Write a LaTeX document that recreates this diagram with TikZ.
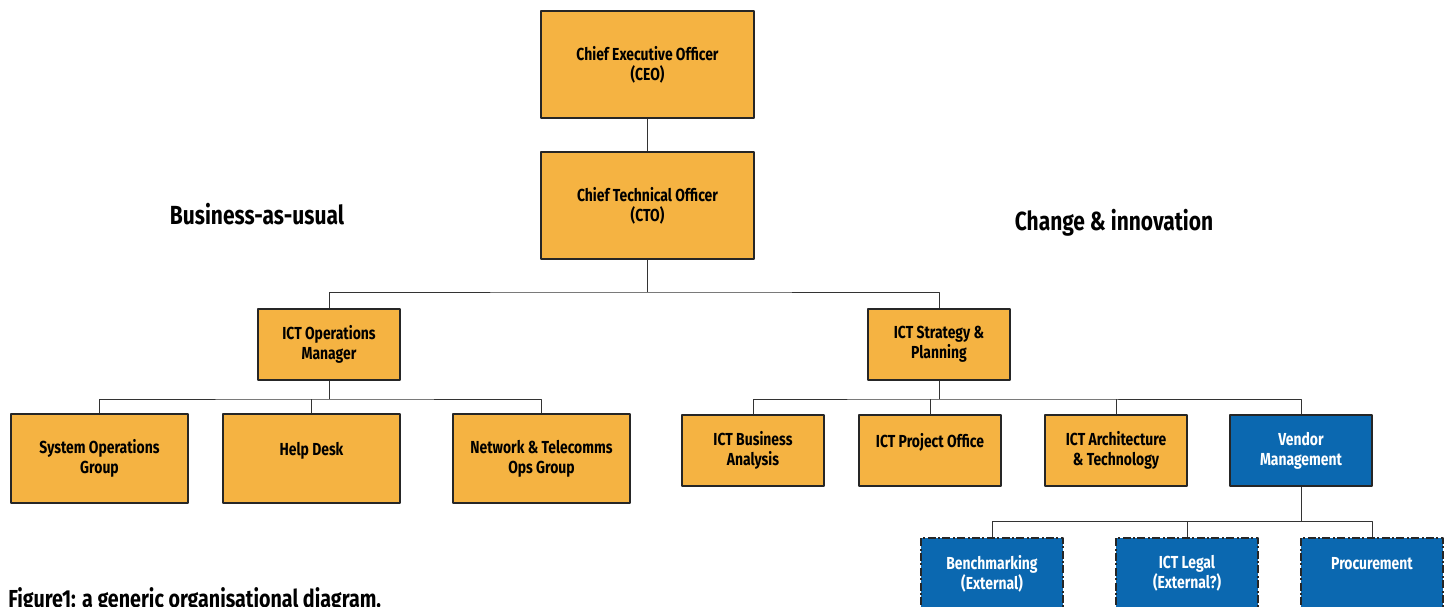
\documentclass[tikz,border=0pt]{standalone}
\usepackage{fontspec}
\setmainfont[FakeStretch=0.8]{Fira Sans}
\definecolor{unitorange}{HTML}{F5B342}
\definecolor{unitblue}{HTML}{0B68B0}
\newcommand{\blankline}{\\\phantom{X}}
\begin{document}
\begin{tikzpicture}[x=0.5pt,y=-0.5pt,line join=round,
    unit/.style={draw=black!85,line width=1pt,fill=unitorange,align=center,inner sep=0pt,
      font=\bfseries\fontsize{8.7}{10}\selectfont,minimum width=71pt,minimum height=35.5pt},
    bigunit/.style={unit,minimum width=106.5pt,minimum height=53.5pt},
    wideunit/.style={unit,minimum width=88.5pt,minimum height=44.5pt},
    vendor/.style={unit,fill=unitblue,text=white},
    external/.style={vendor,dash pattern=on 4pt off 1.2pt on 1pt off 1.2pt},
    link/.style={draw=black!80,line width=0.5pt},
    heading/.style={font=\bfseries\fontsize{13.1}{16}\selectfont}]
  \clip (0,0) rectangle (1450,606);

  % top of the tree
  \node[bigunit] (ceo) at (647.5,64.5) {Chief Executive Officer\\(CEO)};
  \node[bigunit] (cto) at (647.5,205.5) {Chief Technical Officer\\(CTO)};
  \node[unit] (ops) at (329,344.5) {ICT Operations\\Manager};
  \node[unit] (strat) at (939,344.5) {ICT Strategy \&\\Planning};

  % business-as-usual side
  \node[wideunit] (sysops) at (99.5,458.5) {System Operations\\Group};
  \node[wideunit] (help) at (311.5,458.5) {Help Desk\blankline};
  \node[wideunit] (net) at (541.5,458.5) {Network \& Telecomms\\Ops Group};

  % change & innovation side
  \node[unit] (analysis) at (753,450.5) {ICT Business\\Analysis};
  \node[unit] (project) at (930,450.5) {ICT Project Office\blankline};
  \node[unit] (arch) at (1116,450.5) {ICT Architecture\\\& Technology};
  \node[vendor] (vendor) at (1301,450.5) {Vendor\\Management};

  \node[external] (bench) at (992,573.5) {Benchmarking\\(External)};
  \node[external] (legal) at (1187,573.5) {ICT Legal\\(External?)};
  \node[external] (procure) at (1372,573.5) {Procurement\blankline};

  \node[heading] (bau) at (257,214) {Business-as-usual};
  \node[heading] (change) at (1114,223) {Change \& innovation};
  \node[anchor=base west,inner sep=0pt,font=\bfseries\fontsize{12.3}{15}\selectfont] (caption) at (8,607)
    {Figure1: a generic organisational diagram.};

  % connectors
  \draw[link] (ceo) -- (cto);
  \draw[link] (cto.south) -- ++(0,32) coordinate (ctobus);
  \draw[link] (ops.north) |- (ctobus) -| (strat.north);
  \draw[link] (ops.south) -- ++(0,18) coordinate (opsbus);
  \draw[link] (sysops.north) |- (opsbus) -| (net.north);
  \draw[link] (help.north) -- (help.north |- opsbus);
  \draw[link] (strat.south) -- ++(0,18) coordinate (stratbus);
  \draw[link] (analysis.north) |- (stratbus) -| (vendor.north);
  \draw[link] (project.north) -- (project.north |- stratbus);
  \draw[link] (arch.north) -- (arch.north |- stratbus);
  \draw[link] (vendor.south) -- ++(0,34) coordinate (vendorbus);
  \draw[link] (bench.north) |- (vendorbus) -| (procure.north);
  \draw[link] (legal.north) -- (legal.north |- vendorbus);
\end{tikzpicture}
\end{document}
